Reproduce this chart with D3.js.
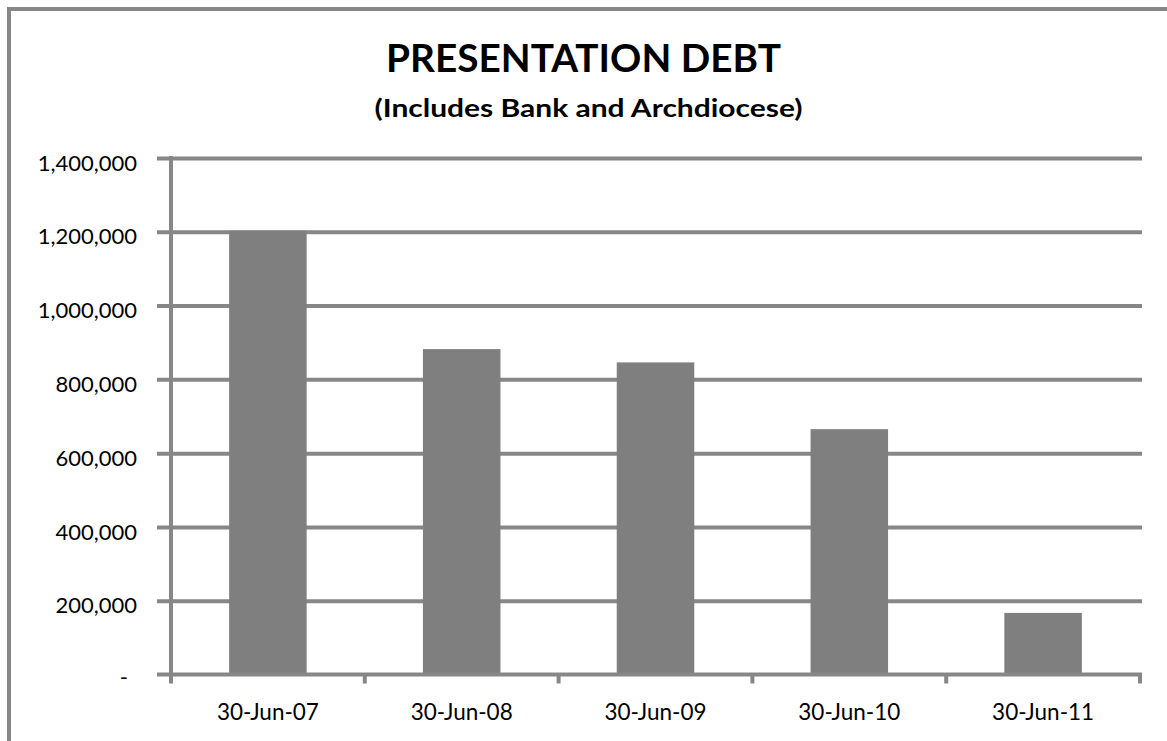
<!DOCTYPE html>
<html>
<head>
<meta charset="utf-8">
<script src="https://cdn.jsdelivr.net/npm/d3@7"></script>
<style>
  html, body { margin: 0; padding: 0; background: #fff; }
  svg { display: block; }
  text { font-family: Lato, "Open Sans", "Liberation Sans", sans-serif; fill: #000; }
</style>
</head>
<body>
<svg id="chart" width="1167" height="741"></svg>
<script>
// ---- data ----
const categories = ["30-Jun-07", "30-Jun-08", "30-Jun-09", "30-Jun-10", "30-Jun-11"];
const debtValues = [1203000, 882000, 846000, 665000, 167000];
const yTickValues = [0, 200000, 400000, 600000, 800000, 1000000, 1200000, 1400000];
const titleText = "PRESENTATION DEBT";
const subtitleText = "(Includes Bank and Archdiocese)";

// ---- layout ----
const svg = d3.select("#chart");
const W = 1167, H = 741;
const plot = { left: 171, right: 1140, top: 158, bottom: 674.5 };
const gridColor = "#878787";
const barColor = "#7f7f7f";

// outer border (top & left visible)
svg.append("rect")
  .attr("x", 9).attr("y", 9)
  .attr("width", W + 20).attr("height", H + 20)
  .attr("fill", "none").attr("stroke", gridColor).attr("stroke-width", 4);

// title
svg.append("text")
  .attr("x", 583.5).attr("y", 72)
  .attr("text-anchor", "middle")
  .attr("font-weight", "bold").attr("font-size", 39)
  .attr("textLength", 395).attr("lengthAdjust", "spacingAndGlyphs")
  .text(titleText);
svg.append("text")
  .attr("x", 588.5).attr("y", 117)
  .attr("text-anchor", "middle")
  .attr("font-weight", "bold").attr("font-size", 24)
  .attr("textLength", 428).attr("lengthAdjust", "spacingAndGlyphs")
  .text(subtitleText);

// scales
const y = d3.scaleLinear().domain([0, 1400000]).range([plot.bottom, plot.top]);
const x = d3.scaleBand().domain(categories)
  .range([plot.left, plot.right])
  .paddingInner(0.6).paddingOuter(0.3);
const xTicks = d3.scaleBand().domain(categories).range([plot.left, plot.right]).padding(0);

// y axis with gridlines
const fmt = d3.format(",");
const yAxis = d3.axisLeft(y)
  .tickValues(yTickValues)
  .tickSizeInner(-(1142 - plot.left))
  .tickSizeOuter(0)
  .tickPadding(34)
  .tickFormat(v => v === 0 ? "-" : fmt(v));

const gy = svg.append("g").attr("transform", `translate(${plot.left},0)`).call(yAxis);
gy.select(".domain").remove();
gy.selectAll(".tick line")
  .attr("x1", -14)
  .attr("stroke", gridColor).attr("stroke-width", 4);
gy.selectAll(".tick").filter(d => d === 0).select("line").remove();
gy.selectAll(".tick text")
  .attr("font-size", 22)
  .attr("font-family", "Lato, 'Open Sans', sans-serif")
  .attr("dy", "0.55em")
  .attr("fill", "#000");
gy.selectAll(".tick").filter(d => d === 0).select("text")
  .attr("x", -43).attr("dy", "0.45em");

// bars
svg.append("g").selectAll("rect")
  .data(categories.map((c, i) => ({ c, v: debtValues[i] })))
  .join("rect")
  .attr("x", d => x(d.c))
  .attr("width", x.bandwidth())
  .attr("y", d => y(d.v))
  .attr("height", d => y(0) - y(d.v))
  .attr("fill", barColor);

// x axis
const xAxis = d3.axisBottom(xTicks)
  .tickSize(0)
  .tickPadding(30)
  .tickSizeOuter(0);
const gx = svg.append("g").attr("transform", `translate(0,${plot.bottom})`).call(xAxis);
gx.select(".domain").attr("stroke", gridColor).attr("stroke-width", 4)
  .attr("d", `M${plot.left - 14},0H${plot.right + 2}`);
gx.selectAll(".tick text")
  .attr("font-size", 22.5)
  .attr("font-family", "Lato, 'Open Sans', sans-serif")
  .attr("fill", "#000");

// x tick marks at band boundaries
const boundaries = categories.map(c => xTicks(c)).concat([plot.right]).slice(1);
svg.append("g").selectAll("line")
  .data(boundaries)
  .join("line")
  .attr("x1", d => d).attr("x2", d => d)
  .attr("y1", plot.bottom).attr("y2", plot.bottom + 9)
  .attr("stroke", gridColor).attr("stroke-width", 4);

// y axis line
svg.append("line")
  .attr("x1", plot.left).attr("x2", plot.left)
  .attr("y1", plot.top - 2).attr("y2", plot.bottom + 9)
  .attr("stroke", gridColor).attr("stroke-width", 4);
</script>
</body>
</html>
